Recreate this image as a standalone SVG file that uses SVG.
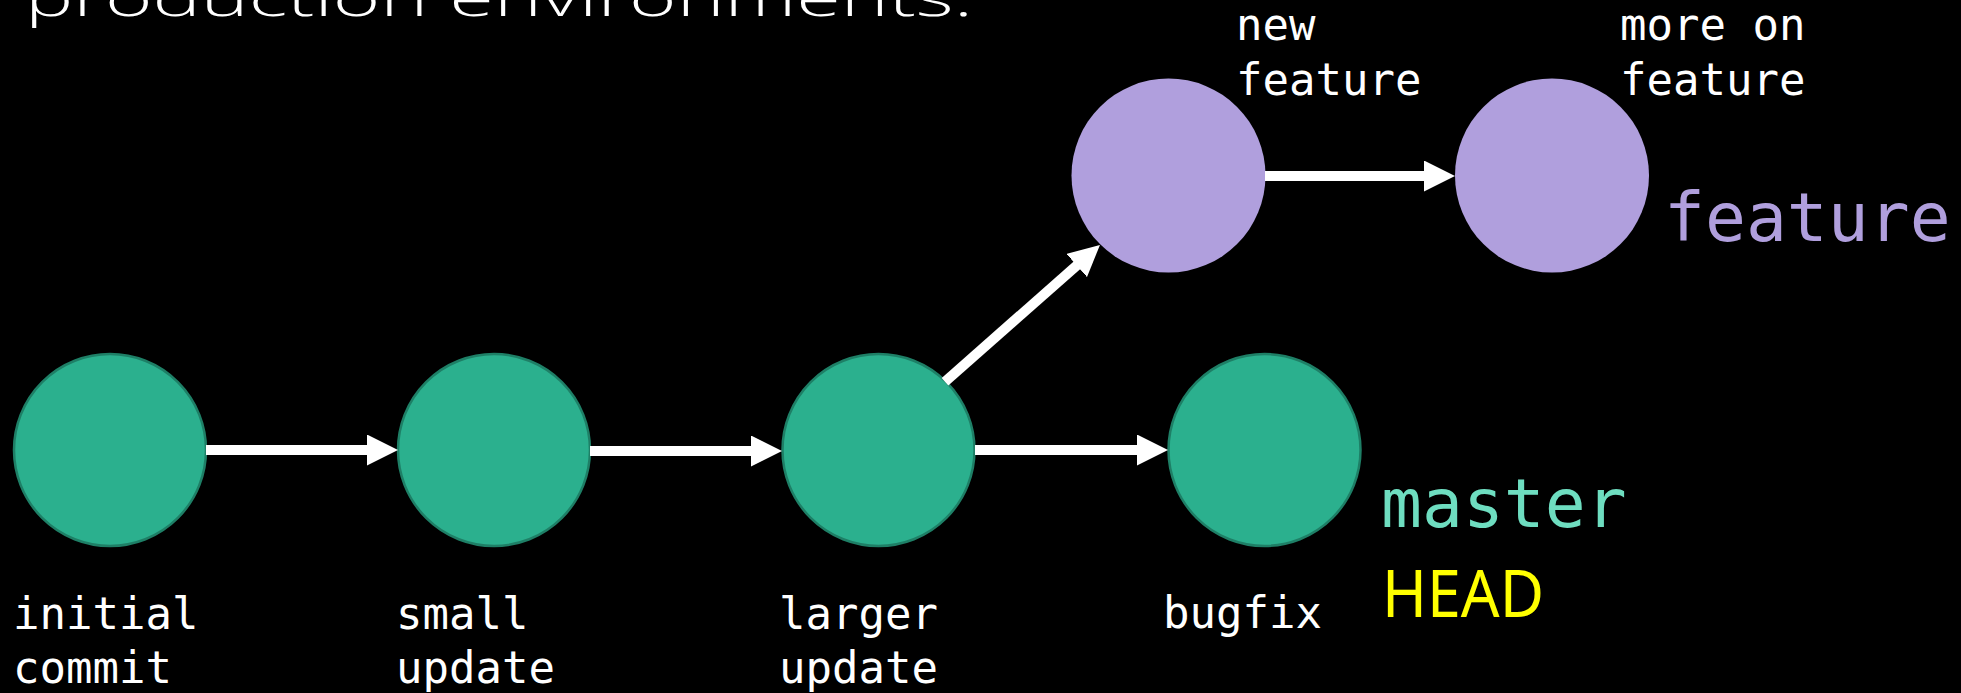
<svg xmlns="http://www.w3.org/2000/svg" width="1961" height="693" viewBox="0 0 1961 693">
<defs>
<style>
.bg{fill:#000}
.commit{fill:#2BB08E;stroke:#1E7F66;stroke-width:2.5}
.feat{fill:#B09FDD}
.lbl{font-family:"DejaVu Sans Mono","Liberation Mono",monospace;font-size:44px;fill:#fff}
.branch{font-family:"DejaVu Sans Mono","Liberation Mono",monospace;font-size:68px}
.conn{stroke:#fff;stroke-width:10;fill:none;marker-end:url(#ah)}
.title{font-family:"Open Sans","Liberation Sans",sans-serif;font-weight:300;font-size:52px;fill:#fff}
</style>
<marker id="ah" viewBox="0 0 31 31" refX="16" refY="15.5" markerWidth="31" markerHeight="31" markerUnits="userSpaceOnUse" orient="auto">
<path d="M0,0 L31,15.5 L0,31 z" fill="#fff"/>
</marker>
</defs>
<rect class="bg" x="0" y="0" width="1961" height="693"/>
<text class="title" x="25" y="15.5" textLength="948" lengthAdjust="spacingAndGlyphs">production environments.</text>

<g id="c1"><circle class="commit" cx="110" cy="450" r="96"/>
<text class="lbl" x="13" y="629">initial</text><text class="lbl" x="13" y="683">commit</text></g>
<g id="c2"><circle class="commit" cx="494" cy="450" r="96"/>
<text class="lbl" x="396" y="629">small</text><text class="lbl" x="396" y="683">update</text></g>
<g id="c3"><circle class="commit" cx="878.5" cy="450" r="96"/>
<text class="lbl" x="779" y="629">larger</text><text class="lbl" x="779" y="683">update</text></g>
<g id="c4"><circle class="commit" cx="1264.5" cy="450" r="96"/>
<text class="lbl" x="1163" y="628">bugfix</text></g>
<g id="f1"><circle class="feat" cx="1168.5" cy="175.5" r="97"/>
<text class="lbl" x="1236" y="40">new</text><text class="lbl" x="1236" y="95">feature</text></g>
<g id="f2"><circle class="feat" cx="1552" cy="175.5" r="97"/>
<text class="lbl" x="1620" y="40">more on</text><text class="lbl" x="1620" y="95">feature</text></g>
<g id="branch-feature"><text class="branch" x="1664" y="241" fill="#B09FDD">feature</text></g>
<g id="branch-master"><text class="branch" x="1381" y="527" fill="#6EDDC0">master</text></g>
<g id="head"><text x="1382" y="617" font-family="'Noto Sans','Liberation Sans',sans-serif" font-size="66" fill="#FFFF00" textLength="162" lengthAdjust="spacingAndGlyphs">HEAD</text></g>

<g id="connectors">
<line class="conn" x1="206" y1="450" x2="383" y2="450"/>
<line class="conn" x1="590" y1="451" x2="767" y2="451"/>
<line class="conn" x1="975" y1="450" x2="1153" y2="450"/>
<line class="conn" x1="1265" y1="176" x2="1440" y2="176"/>
<line class="conn" x1="945" y1="381.7" x2="1088.7" y2="254.9"/>
</g>
</svg>
